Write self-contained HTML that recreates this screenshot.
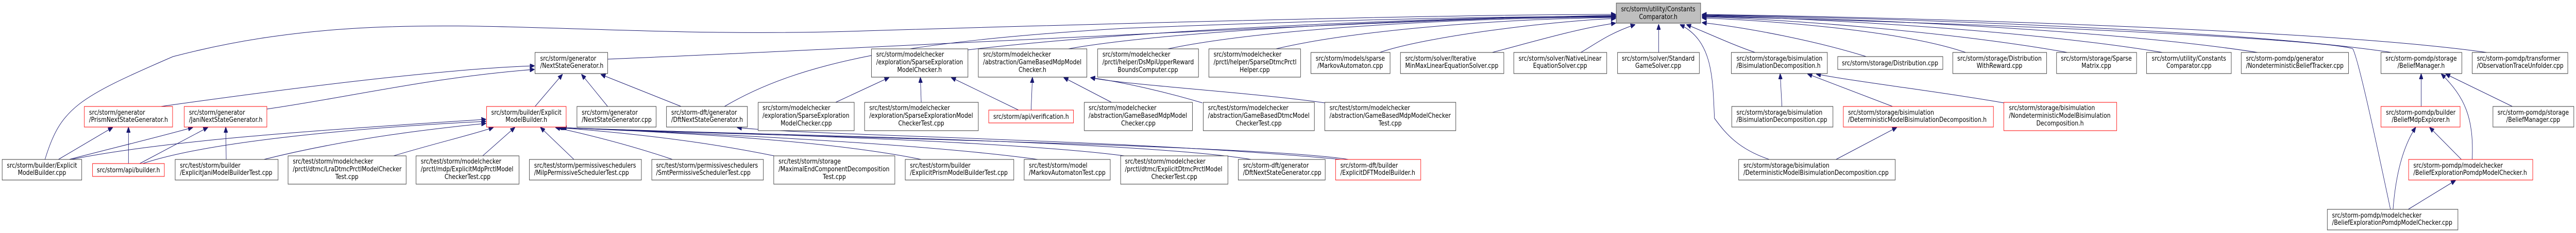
<!DOCTYPE html>
<html><head><meta charset="utf-8">
<style>
html,body{margin:0;padding:0;background:#fff;overflow:hidden;width:100vw;height:100vh;}
svg{display:block;width:100vw;height:100vh;}
text{font-family:"DejaVu Sans","Liberation Sans",sans-serif;font-size:13px;fill:#000;}
.k{fill:#fff;stroke:#333;stroke-width:1;}
.r{fill:#fff;stroke:#ff0000;stroke-width:1;}
.e{fill:none;stroke:#191970;stroke-width:1;marker-end:url(#a);}
.c{text-anchor:middle;}
</style></head><body>
<svg viewBox="0 0 5956 453" preserveAspectRatio="none" xmlns="http://www.w3.org/2000/svg">
<defs><marker id="a" markerWidth="11" markerHeight="9" refX="10" refY="4.5" orient="auto" markerUnits="userSpaceOnUse"><path d="M0,0 L11,4.5 L0,9 z" fill="#191970" stroke="#191970"/></marker></defs>

<path class="e" d="M104,310 C140,210 180,190 400,110 C900,0 1300,80 2000,60 C2800,40 3400,28 3735,28"/>
<path class="e" d="M1405,115 C2000,95 3300,34 3735,30"/>
<path class="e" d="M1675,207 C1850,120 2100,80 2600,55 C3200,35 3500,32 3735,32"/>
<path class="e" d="M2238,97 C2600,60 3300,33 3735,31"/>
<path class="e" d="M2470,95 C2700,60 3300,34 3735,32"/>
<path class="e" d="M2700,95 C2900,60 3300,36 3735,33"/>
<path class="e" d="M2950,95 C3100,65 3400,38 3735,34"/>
<path class="e" d="M3190,102 C3300,70 3600,40 3735,36"/>
<path class="e" d="M3450,102 C3550,80 3650,55 3735,45"/>
<path class="e" d="M3655,102 C3690,85 3720,65 3780,48"/>
<path class="e" d="M3835,102 L3835,48"/>
<path class="e" d="M4058,102 C4000,85 3950,65 3900,48"/>
<path class="e" d="M4315,110 C4200,80 4050,55 3936,44"/>
<path class="e" d="M4545,102 C4400,60 4100,40 3936,35"/>
<path class="e" d="M4780,102 C4500,60 4100,36 3936,33"/>
<path class="e" d="M5000,102 C4700,60 4200,35 3936,31"/>
<path class="e" d="M5220,102 C4900,60 4300,35 3936,30"/>
<path class="e" d="M5530,102 C5200,60 4400,35 3936,29"/>
<path class="e" d="M5750,102 C5400,60 4500,35 3936,28"/>
<path class="e" d="M5527,407 C5500,300 5455,120 5440,95 C5400,80 4800,50 3936,32"/>
<path class="e" d="M4091,310 C4020,290 3990,260 3964,230 C3960,150 3960,80 3885,48"/>

<path class="e" d="M372,207 C600,180 1000,135 1235,128"/>
<path class="e" d="M617,212 C800,190 1000,150 1235,135"/>
<path class="e" d="M1237,207 L1300,145"/>
<path class="e" d="M1405,207 L1345,145"/>
<path class="e" d="M1575,207 L1390,145"/>
<path class="e" d="M135,310 L260,248"/>
<path class="e" d="M297,318 L297,248"/>
<path class="e" d="M160,310 C250,290 350,270 445,248"/>
<path class="e" d="M323,318 L480,248"/>
<path class="e" d="M523,310 L522,248"/>
<path class="e" d="M165,310 C400,270 800,250 1123,232"/>
<path class="e" d="M330,318 C500,270 900,245 1123,236"/>
<path class="e" d="M610,310 C800,270 1000,250 1123,240"/>
<path class="e" d="M910,303 C1000,280 1100,260 1140,248"/>
<path class="e" d="M1116,303 L1190,248"/>
<path class="e" d="M1327,310 L1250,248"/>
<path class="e" d="M1555,310 C1450,280 1350,260 1285,248"/>
<path class="e" d="M1790,303 C1600,270 1400,255 1290,248"/>
<path class="e" d="M2130,310 C1900,270 1500,255 1292,248"/>
<path class="e" d="M2400,310 C2100,275 1500,255 1294,248"/>
<path class="e" d="M2600,303 C2300,270 1500,255 1296,248"/>
<path class="e" d="M2893,310 C2600,270 1600,260 1298,248"/>
<path class="e" d="M3118,310 C2900,280 1600,262 1300,248"/>
<path class="e" d="M3100,310 C2600,270 1900,265 1705,248"/>
<path class="e" d="M1932,199 L2055,151"/>
<path class="e" d="M2130,199 L2128,151"/>
<path class="e" d="M2355,214 L2200,151"/>
<path class="e" d="M2384,214 L2387,151"/>
<path class="e" d="M2570,199 L2460,151"/>
<path class="e" d="M2780,200 C2700,180 2600,160 2522,151"/>
<path class="e" d="M3063,200 C2900,180 2600,165 2522,151"/>
<path class="e" d="M4120,207 L4116,144"/>
<path class="e" d="M4376,207 L4180,144"/>
<path class="e" d="M4633,200 C4500,180 4300,160 4200,144"/>
<path class="e" d="M4245,310 L4385,248"/>
<path class="e" d="M5598,207 L5598,144"/>
<path class="e" d="M5716,310 C5720,230 5700,190 5645,144"/>
<path class="e" d="M5809,207 L5655,144"/>
<path class="e" d="M5533,407 C5540,330 5560,280 5585,248"/>
<path class="e" d="M5691,310 L5618,248"/>
<path class="e" d="M5568,407 L5677,351"/>

<rect x="3737" y="6" width="195" height="39" fill="#bfbfbf" stroke="#404040"/>
<text class="c" x="3834" y="22">src/storm/utility/Constants</text><text class="c" x="3834" y="37">Comparator.h</text>

<rect class="k" x="5" y="310" width="184" height="40"/><text class="c" x="97" y="326">src/storm/builder/Explicit</text><text class="c" x="97" y="340">ModelBuilder.cpp</text>
<rect class="r" x="195" y="207" width="204" height="40"/><text x="206" y="223">src/storm/generator</text><text x="206" y="237">/PrismNextStateGenerator.h</text>
<rect class="r" x="214" y="318" width="166" height="25"/><text class="c" x="297" y="335">src/storm/api/builder.h</text>
<rect class="r" x="426" y="207" width="191" height="40"/><text x="437" y="223">src/storm/generator</text><text x="437" y="237">/JaniNextStateGenerator.h</text>
<rect class="k" x="405" y="310" width="238" height="40"/><text x="416" y="326">src/test/storm/builder</text><text x="416" y="340">/ExplicitJaniModelBuilderTest.cpp</text>
<rect class="k" x="666" y="303" width="273" height="55"/><text x="677" y="318">src/test/storm/modelchecker</text><text x="677" y="333">/prctl/dtmc/LraDtmcPrctlModelChecker</text><text class="c" x="802" y="348">Test.cpp</text>
<rect class="k" x="962" y="303" width="238" height="55"/><text x="973" y="318">src/test/storm/modelchecker</text><text x="973" y="333">/prctl/mdp/ExplicitMdpPrctlModel</text><text class="c" x="1081" y="348">CheckerTest.cpp</text>
<rect class="k" x="1237" y="102" width="168" height="41"/><text x="1249" y="118">src/storm/generator</text><text x="1249" y="132">/NextStateGenerator.h</text>
<rect class="r" x="1125" y="207" width="184" height="40"/><text class="c" x="1217" y="223">src/storm/builder/Explicit</text><text class="c" x="1217" y="237">ModelBuilder.h</text>
<rect class="k" x="1334" y="207" width="183" height="40"/><text x="1345" y="223">src/storm/generator</text><text x="1345" y="237">/NextStateGenerator.cpp</text>
<rect class="k" x="1224" y="310" width="259" height="40"/><text x="1235" y="326">src/test/storm/permissiveschedulers</text><text x="1235" y="340">/MilpPermissiveSchedulerTest.cpp</text>
<rect class="k" x="1541" y="207" width="187" height="40"/><text x="1552" y="223">src/storm-dft/generator</text><text x="1552" y="237">/DftNextStateGenerator.h</text>
<rect class="k" x="1753" y="199" width="222" height="55"/><text x="1763" y="214">src/storm/modelchecker</text><text x="1763" y="229">/exploration/SparseExploration</text><text class="c" x="1864" y="244">ModelChecker.cpp</text>
<rect class="k" x="1999" y="199" width="263" height="55"/><text x="2010" y="214">src/test/storm/modelchecker</text><text x="2010" y="229">/exploration/SparseExplorationModel</text><text class="c" x="2130" y="244">CheckerTest.cpp</text>
<rect class="k" x="1507" y="310" width="258" height="40"/><text x="1517" y="326">src/test/storm/permissiveschedulers</text><text x="1517" y="340">/SmtPermissiveSchedulerTest.cpp</text>
<rect class="k" x="1789" y="303" width="280" height="55"/><text x="1800" y="318">src/test/storm/storage</text><text x="1800" y="333">/MaximalEndComponentDecomposition</text><text class="c" x="1929" y="348">Test.cpp</text>
<rect class="k" x="2015" y="95" width="223" height="55"/><text x="2026" y="110">src/storm/modelchecker</text><text x="2026" y="125">/exploration/SparseExploration</text><text class="c" x="2126" y="140">ModelChecker.h</text>
<rect class="k" x="2262" y="95" width="251" height="55"/><text x="2273" y="110">src/storm/modelchecker</text><text x="2273" y="125">/abstraction/GameBasedMdpModel</text><text class="c" x="2387" y="140">Checker.h</text>
<rect class="r" x="2286" y="214" width="196" height="25"/><text class="c" x="2384" y="231">src/storm/api/verification.h</text>
<rect class="k" x="2093" y="310" width="251" height="40"/><text x="2104" y="326">src/test/storm/builder</text><text x="2104" y="340">/ExplicitPrismModelBuilderTest.cpp</text>
<rect class="k" x="2368" y="310" width="199" height="40"/><text x="2379" y="326">src/test/storm/model</text><text x="2379" y="340">/MarkovAutomatonTest.cpp</text>
<rect class="k" x="2538" y="95" width="233" height="55"/><text x="2549" y="110">src/storm/modelchecker</text><text x="2549" y="125">/prctl/helper/DsMpiUpperReward</text><text class="c" x="2654" y="140">BoundsComputer.cpp</text>
<rect class="k" x="2795" y="95" width="212" height="55"/><text x="2806" y="110">src/storm/modelchecker</text><text x="2806" y="125">/prctl/helper/SparseDtmcPrctl</text><text class="c" x="2901" y="140">Helper.cpp</text>
<rect class="k" x="2507" y="199" width="250" height="55"/><text x="2517" y="214">src/storm/modelchecker</text><text x="2517" y="229">/abstraction/GameBasedMdpModel</text><text class="c" x="2632" y="244">Checker.cpp</text>
<rect class="k" x="2782" y="199" width="257" height="55"/><text x="2793" y="214">src/test/storm/modelchecker</text><text x="2793" y="229">/abstraction/GameBasedDtmcModel</text><text class="c" x="2910" y="244">CheckerTest.cpp</text>
<rect class="k" x="2591" y="303" width="248" height="55"/><text x="2601" y="318">src/test/storm/modelchecker</text><text x="2601" y="333">/prctl/dtmc/ExplicitDtmcPrctlModel</text><text class="c" x="2715" y="348">CheckerTest.cpp</text>
<rect class="k" x="2863" y="310" width="201" height="40"/><text x="2874" y="326">src/storm-dft/generator</text><text x="2874" y="340">/DftNextStateGenerator.cpp</text>
<rect class="k" x="3031" y="102" width="183" height="41"/><text class="c" x="3122" y="118">src/storm/models/sparse</text><text class="c" x="3122" y="132">/MarkovAutomaton.cpp</text>
<rect class="k" x="3238" y="102" width="239" height="41"/><text x="3249" y="118">src/storm/solver/Iterative</text><text x="3249" y="132">MinMaxLinearEquationSolver.cpp</text>
<rect class="k" x="3063" y="199" width="303" height="55"/><text x="3074" y="214">src/test/storm/modelchecker</text><text x="3074" y="229">/abstraction/GameBasedMdpModelChecker</text><text class="c" x="3214" y="244">Test.cpp</text>
<rect class="r" x="3088" y="310" width="197" height="40"/><text x="3099" y="326">src/storm-dft/builder</text><text x="3099" y="340">/ExplicitDFTModelBuilder.h</text>
<rect class="k" x="3500" y="102" width="215" height="41"/><text class="c" x="3607" y="118">src/storm/solver/NativeLinear</text><text class="c" x="3607" y="132">EquationSolver.cpp</text>
<rect class="k" x="3740" y="102" width="189" height="41"/><text class="c" x="3834" y="118">src/storm/solver/Standard</text><text class="c" x="3834" y="132">GameSolver.cpp</text>
<rect class="k" x="4003" y="102" width="222" height="41"/><text x="4015" y="118">src/storm/storage/bisimulation</text><text x="4015" y="132">/BisimulationDecomposition.h</text>
<rect class="k" x="4249" y="110" width="243" height="25"/><text class="c" x="4370" y="127">src/storm/storage/Distribution.cpp</text>
<rect class="k" x="4004" y="207" width="234" height="40"/><text x="4015" y="223">src/storm/storage/bisimulation</text><text x="4015" y="237">/BisimulationDecomposition.cpp</text>
<rect class="r" x="4262" y="207" width="347" height="40"/><text x="4273" y="223">src/storm/storage/bisimulation</text><text x="4273" y="237">/DeterministicModelBisimulationDecomposition.h</text>
<rect class="k" x="4020" y="310" width="362" height="40"/><text x="4031" y="326">src/storm/storage/bisimulation</text><text x="4031" y="340">/DeterministicModelBisimulationDecomposition.cpp</text>
<rect class="k" x="4515" y="102" width="217" height="41"/><text class="c" x="4623" y="118">src/storm/storage/Distribution</text><text class="c" x="4623" y="132">WithReward.cpp</text>
<rect class="k" x="4755" y="102" width="185" height="41"/><text class="c" x="4847" y="118">src/storm/storage/Sparse</text><text class="c" x="4847" y="132">Matrix.cpp</text>
<rect class="k" x="4963" y="102" width="196" height="41"/><text class="c" x="5061" y="118">src/storm/utility/Constants</text><text class="c" x="5061" y="132">Comparator.cpp</text>
<rect class="r" x="4633" y="199" width="261" height="55"/><text x="4645" y="214">src/storm/storage/bisimulation</text><text x="4645" y="229">/NondeterministicModelBisimulation</text><text class="c" x="4763" y="244">Decomposition.h</text>
<rect class="k" x="5182" y="102" width="248" height="41"/><text x="5193" y="118">src/storm-pomdp/generator</text><text x="5193" y="132">/NondeterministicBeliefTracker.cpp</text>
<rect class="k" x="5381" y="407" width="302" height="40"/><text x="5392" y="423">src/storm-pomdp/modelchecker</text><text x="5392" y="437">/BeliefExplorationPomdpModelChecker.cpp</text>
<rect class="k" x="5505" y="102" width="187" height="41"/><text class="c" x="5598" y="118">src/storm-pomdp/storage</text><text class="c" x="5598" y="132">/BeliefManager.h</text>
<rect class="k" x="5716" y="102" width="221" height="41"/><text x="5727" y="118">src/storm-pomdp/transformer</text><text x="5727" y="132">/ObservationTraceUnfolder.cpp</text>
<rect class="r" x="5505" y="207" width="183" height="40"/><text class="c" x="5597" y="223">src/storm-pomdp/builder</text><text class="c" x="5597" y="237">/BeliefMdpExplorer.h</text>
<rect class="k" x="5764" y="207" width="187" height="40"/><text class="c" x="5857" y="223">src/storm-pomdp/storage</text><text class="c" x="5857" y="237">/BeliefManager.cpp</text>
<rect class="r" x="5569" y="310" width="287" height="40"/><text x="5580" y="326">src/storm-pomdp/modelchecker</text><text x="5580" y="340">/BeliefExplorationPomdpModelChecker.h</text>
</svg>
</body></html>
